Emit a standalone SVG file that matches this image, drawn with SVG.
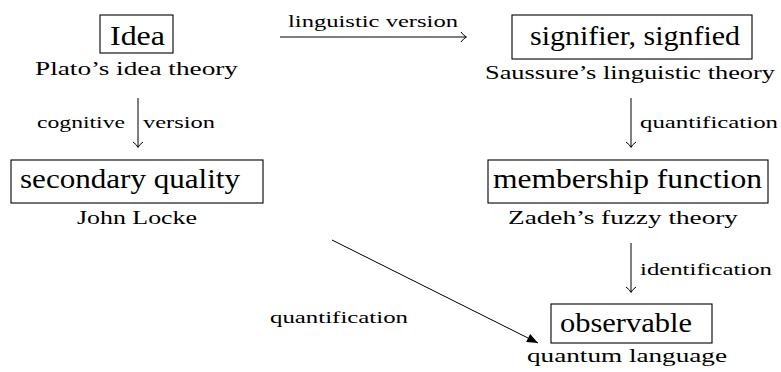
<svg xmlns="http://www.w3.org/2000/svg" width="781" height="372" viewBox="0 0 781 372">
<style>
text{font-family:'Liberation Serif','DejaVu Serif','Times New Roman',serif;fill:#000}
.big{font-size:27px}
.sub{font-size:19px}
.lab{font-size:17px}
.box{fill:none;stroke:#000;stroke-width:1.1}
.edge{fill:none;stroke:#000;stroke-width:1}
</style>
<defs>
<marker id="to" markerUnits="userSpaceOnUse" markerWidth="14" markerHeight="14" viewBox="-7 -7 14 14" refX="0" refY="0" orient="auto">
<path d="M-5,-5 Q-2,-0.8 0.5,0 Q-2,0.8 -5,5" fill="none" stroke="#000" stroke-width="1"/>
</marker>
<marker id="tri" markerUnits="userSpaceOnUse" markerWidth="14" markerHeight="14" viewBox="-12 -7 14 14" refX="0" refY="0" orient="auto">
<path d="M0,0 L-11,-4.5 L-11,4.5 Z" fill="#000"/>
</marker>
</defs>
<rect width="781" height="372" fill="#fff"/>
<g id="idea">
<rect class="box" x="100" y="15" width="73" height="38"/>
<text class="big" x="110" y="45" textLength="55" lengthAdjust="spacingAndGlyphs">Idea</text>
<text class="sub" x="35" y="75" textLength="203" lengthAdjust="spacingAndGlyphs">Plato’s idea theory</text>
</g>
<g id="secondary">
<rect class="box" x="11" y="160" width="252" height="43"/>
<text class="big" x="20" y="188" textLength="220" lengthAdjust="spacingAndGlyphs">secondary quality</text>
<text class="sub" x="77" y="224" textLength="120" lengthAdjust="spacingAndGlyphs">John Locke</text>
</g>
<g id="signifier">
<rect class="box" x="512" y="15" width="240" height="44"/>
<text class="big" x="530" y="45" textLength="210" lengthAdjust="spacingAndGlyphs">signifier, signfied</text>
<text class="sub" x="485" y="79" textLength="290" lengthAdjust="spacingAndGlyphs">Saussure’s linguistic theory</text>
</g>
<g id="membership">
<rect class="box" x="488" y="160" width="280" height="43"/>
<text class="big" x="493" y="188" textLength="269" lengthAdjust="spacingAndGlyphs">membership function</text>
<text class="sub" x="508" y="224" textLength="230" lengthAdjust="spacingAndGlyphs">Zadeh’s fuzzy theory</text>
</g>
<g id="observable">
<rect class="box" x="551" y="304" width="161" height="39"/>
<text class="big" x="560" y="332" textLength="132" lengthAdjust="spacingAndGlyphs">observable</text>
<text class="sub" x="527" y="362" textLength="200" lengthAdjust="spacingAndGlyphs">quantum language</text>
</g>
<g id="connectors">
<line class="edge" x1="280" y1="37" x2="466" y2="37" marker-end="url(#to)"/>
<line class="edge" x1="138" y1="98" x2="138" y2="147" marker-end="url(#to)"/>
<line class="edge" x1="631" y1="98" x2="631" y2="147" marker-end="url(#to)"/>
<line class="edge" x1="631" y1="243" x2="631" y2="292" marker-end="url(#to)"/>
<line class="edge" x1="332" y1="240" x2="538" y2="343" marker-end="url(#tri)"/>
<text class="lab" x="288" y="27" textLength="170" lengthAdjust="spacingAndGlyphs">linguistic version</text>
<text class="lab" x="37" y="128" textLength="88" lengthAdjust="spacingAndGlyphs">cognitive</text>
<text class="lab" x="143" y="128" textLength="72" lengthAdjust="spacingAndGlyphs">version</text>
<text class="lab" x="640" y="128" textLength="138" lengthAdjust="spacingAndGlyphs">quantification</text>
<text class="lab" x="640" y="275" textLength="132" lengthAdjust="spacingAndGlyphs">identification</text>
<text class="lab" x="270" y="323" textLength="138" lengthAdjust="spacingAndGlyphs">quantification</text>
</g>
</svg>
